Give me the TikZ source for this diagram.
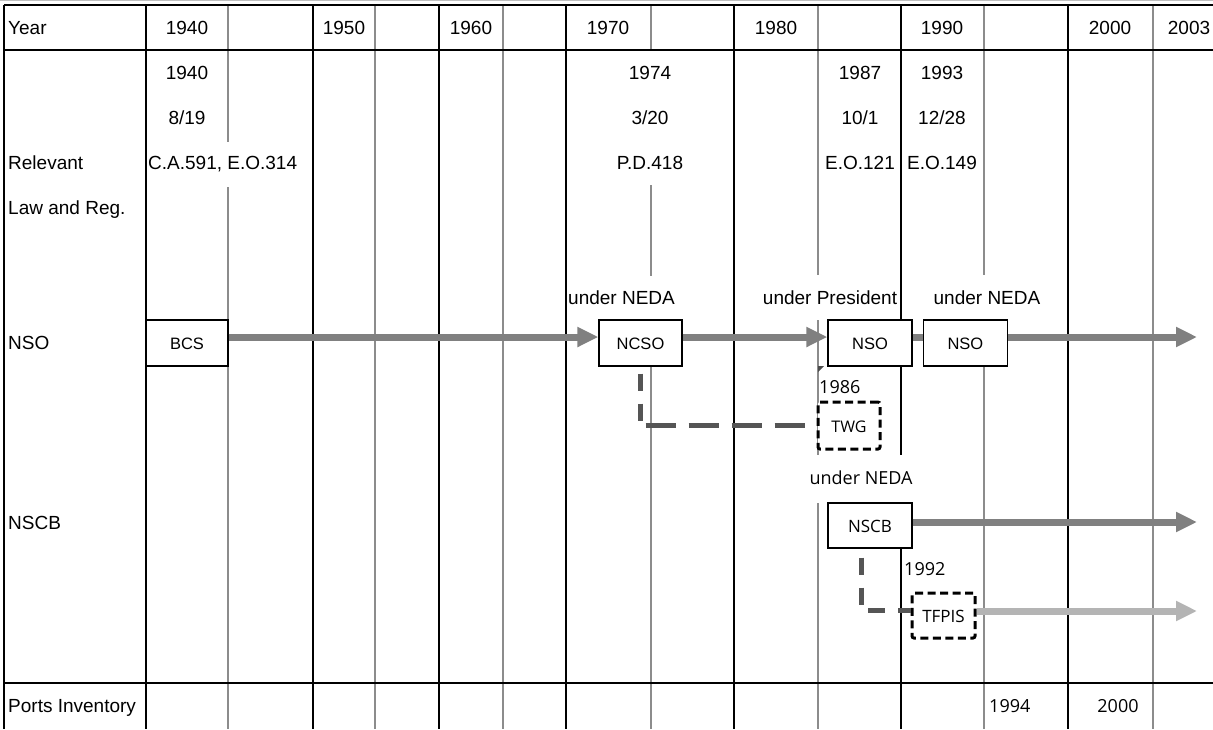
\documentclass[tikz,border=0pt]{standalone}
\usepackage{fontspec}
\setmainfont{Liberation Sans}
\newfontfamily\segfont{Open Sans}
\usetikzlibrary{arrows.meta, positioning}
\definecolor{flowgray}{HTML}{808080}
\definecolor{lightflow}{HTML}{B4B4B4}
\definecolor{linkgray}{HTML}{555555}
\definecolor{gridgray}{HTML}{8C8C8C}

\begin{document}
\begin{tikzpicture}[x=1pt, y=-1pt,
  every node/.style={font=\fontsize{19}{22}\selectfont, inner sep=0pt, text height=13.5pt, text depth=0pt},
  segtxt/.style={font=\segfont\fontsize{18}{21}\selectfont},
  blk/.style={line width=2pt, black},
  gry/.style={line width=1.6pt, gridgray},
  orgbox/.style={draw, line width=1.4pt, fill=white, minimum width=84pt, minimum height=46pt, font=\fontsize{16.5}{19}\selectfont},
  tfbox/.style={draw, line width=3pt, dash pattern=on 8pt off 4.5pt, rounded corners=2pt, fill=white, font=\segfont\fontsize{16}{19}\selectfont},
  flow/.style={line width=7pt, flowgray, -{Triangle[length=21pt, width=19pt]}},
  link/.style={line width=5pt, linkgray, dash pattern=on 17pt off 13pt}]
\fill[white] (0,0) rectangle (1213,729);
\useasboundingbox (0,0) rectangle (1213,729);
\draw[gray!50, line width=1pt] (0,0.8) -- (1213,0.8);
% half-decade lines (gray), cut where a text spans them
\foreach \x in {375,503,1153} \draw[gry] (\x,5) -- (\x,729);
\draw[gry] (228,5) -- (228,142) (228,187) -- (228,729);
\draw[gry] (651,5) -- (651,50) (651,185) -- (651,276) (651,366) -- (651,729);
\draw[gry] (818,5) -- (818,275) (818,320) -- (818,455) (818,503) -- (818,729);
\draw[gry] (984,5) -- (984,275) (984,320) -- (984,729);
% decade lines and row rules
\foreach \x in {4,146,313,439,566,734,1068} \draw[blk] (\x,5) -- (\x,729);
\draw[blk] (901,5) -- (901,455) (901,548) -- (901,729);
\foreach \y in {5,50,683} \draw[blk] (4,\y) -- (1213,\y);
% header row
\node[anchor=west] (year) at (8,27.5) {Year};
\foreach \x/\t in {187/1940,344/1950,471/1960,608/1970,776/1980,942/1990,1110/2000,1189/2003}
  \node (hd\t) at (\x,27.5) {\t};
% row labels
\node[anchor=west] (relv) at (8,162.5) {Relevant};
\node[anchor=west] (lawreg) at (8,207.5) {Law and Reg.};
\node[anchor=west] (nsolbl) at (8,342.5) {NSO};
\node[anchor=west] (nscblbl) at (8,522.5) {NSCB};
\node[anchor=west] (portlbl) at (8,706) {Ports Inventory};
% laws and regulations
\node (yr40) at (187,72.5) {1940};
\node (dt40) at (187,117.5) {8/19};
\node[anchor=west] (ca591) at (148,162.5) {C.A.591, E.O.314};
\node (yr74) at (650,72.5) {1974};
\node (dt74) at (650,117.5) {3/20};
\node (pd418) at (650,162.5) {P.D.418};
\node (yr87) at (860,72.5) {1987};
\node (dt87) at (860,117.5) {10/1};
\node (eo121) at (860,162.5) {E.O.121};
\node (yr93) at (942,72.5) {1993};
\node (dt93) at (942,117.5) {12/28};
\node (eo149) at (942,162.5) {E.O.149};
% NSO line
\node[anchor=west] (ncsoneda) at (568,297.5) {under NEDA};
\node (nsopres) at (830,297.5) {under President};
\node (nsoneda) at (987,297.5) {under NEDA};
\node[orgbox, minimum width=82pt] (bcs) at (187,343) {BCS};
\node[orgbox, minimum width=83pt] (ncso) at (640.5,343) {NCSO};
\node[orgbox] (nso) at (870,343) {NSO};
\node[orgbox, right=10pt of nso] (nsob) {NSO};
\coordinate (nsoend) at (1197,337);
\draw[flow] ([yshift=6pt]bcs.east) -- ([yshift=6pt]ncso.west);
\draw[flow] ([yshift=6pt]ncso.east) -- ([yshift=6pt]nso.west);
\draw[line width=7pt, flowgray] ([yshift=6pt]nso.east) -- ([yshift=6pt]nsob.west);
\draw[flow] ([yshift=6pt]nsob.east) -- (nsoend);
% TWG
\fill[gray!60!black] (818,366) -- (824,366) -- (818,372) -- cycle;
\node[segtxt, anchor=west] (yr86) at (819,387) {1986};
\node[tfbox, minimum width=62pt, minimum height=47pt] (twg) at (849,425.5) {TWG};
\coordinate (twgbend) at (ncso.south |- twg.west);
\draw[link, dash phase=23pt] (ncso.south) -- (twgbend);
\draw[link, dash pattern=on 30pt off 13pt, dash phase=38pt] (twgbend) -- (twg.west);
% NSCB line
\node[segtxt] (nscbneda) at (861,477.5) {under NEDA};
\node[orgbox, minimum height=45pt, font=\segfont\fontsize{17}{20}\selectfont] (nscb) at (870,525.5) {NSCB};
\coordinate (nscbend) at (1197,522);
\draw[flow] ([yshift=3.5pt]nscb.east) -- (nscbend);
\node[segtxt, anchor=west] (yr92) at (904,569) {1992};
\node[tfbox, minimum width=63pt, minimum height=45pt, font=\segfont\fontsize{17}{20}\selectfont] (tfpis) at (943.5,615.5) {TFPIS};
\draw[link, dash phase=21pt] ([xshift=-9pt]nscb.south) |- ([yshift=5pt]tfpis.west);
\coordinate (tfpisend) at (1197,611);
\draw[flow, lightflow] ([yshift=4.5pt]tfpis.east) -- (tfpisend);
% ports inventory
\node[segtxt, anchor=west] (pi94) at (989,706) {1994};
\node[segtxt] (pi00) at (1118,706) {2000};
\end{tikzpicture}
\end{document}
